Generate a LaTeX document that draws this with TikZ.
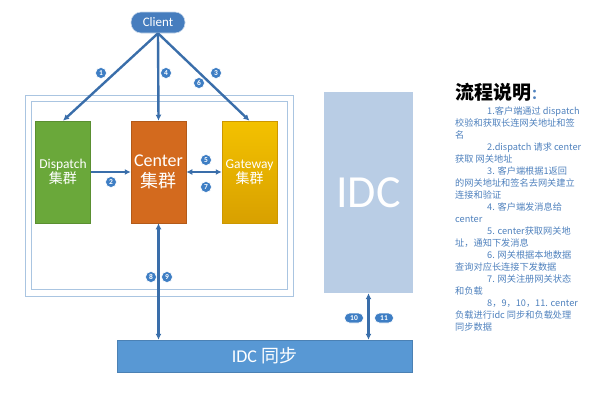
\documentclass[tikz,border=0pt]{standalone}
\usepackage{fontspec}
\setmainfont{Carlito}
\newfontfamily\cjk{Noto Sans CJK SC}
\usetikzlibrary{arrows.meta}
\definecolor{arrowblue}{RGB}{58,110,170}
\definecolor{clientblue}{RGB}{70,125,190}
\definecolor{framecol}{RGB}{170,197,225}
\definecolor{dispgreen}{RGB}{106,168,58}
\definecolor{centorange}{RGB}{211,106,30}
\definecolor{gategold}{RGB}{240,178,0}
\definecolor{idcbar}{RGB}{88,152,212}
\definecolor{idcbox}{RGB}{185,205,229}
\definecolor{badge}{RGB}{62,126,196}
\definecolor{textblue}{RGB}{79,129,189}
\tikzset{
  frame/.style={draw=framecol, line width=1pt, inner sep=0pt},
  cluster/.style={minimum width=55pt, minimum height=102pt, inner sep=0pt, text=white, align=center},
  arr/.style={draw=arrowblue, line width=2.4pt, -{Latex[length=6pt,width=6pt]}},
  darr/.style={draw=arrowblue, line width=2.4pt, {Latex[length=6pt,width=6pt]}-{Latex[length=6pt,width=6pt]}},
  badgec/.style={circle, fill=badge, draw=white, line width=0.6pt, inner sep=0pt, minimum size=11pt, text=white, font=\fontsize{7.5}{7.5}\selectfont\bfseries},
  badgee/.style={rectangle, rounded corners=5pt, fill=badge, draw=white, line width=0.6pt, inner sep=0pt, minimum width=19pt, minimum height=10pt, text=white, font=\fontsize{7.5}{7.5}\selectfont\bfseries}
}
\begin{document}
\begin{tikzpicture}[x=1pt,y=-1pt]
\useasboundingbox (0,0) rectangle (595,400);
% frames
\node[frame, minimum width=268pt, minimum height=201pt] (outer) at (159,195.5) {};
\node[frame, minimum width=256pt, minimum height=188pt] (inner) at (159,195) {};
% IDC box and bar
\node[fill=idcbox, minimum width=89pt, minimum height=201pt, inner sep=0pt, text=white, font=\fontsize{46}{46}\selectfont] (idc) at (368.5,192.5) {IDC};
\node[fill=idcbar, draw=idcbar!85!black, line width=0.4pt, minimum width=295pt, minimum height=32pt, inner sep=0pt, text=white] (sync) at (264.5,356) {\fontsize{18}{18}\selectfont IDC {\cjk 同步}};
% client
\node[fill=clientblue, draw=white!70!clientblue, line width=0.6pt, rounded corners=10pt, minimum width=54pt, minimum height=21pt, inner sep=0pt, text=white, font=\fontsize{13}{13}\selectfont] (client) at (158,22.5) {Client};
% clusters
\node[cluster, fill=dispgreen, draw=dispgreen!85!black, line width=0.5pt] (dispatch) at (63,172)
  {\fontsize{13.5}{18}\selectfont Dispatch\\{\cjk\fontsize{14}{14}\selectfont 集群}};
\node[cluster, fill=centorange, draw=centorange!85!black, line width=0.5pt] (center) at (158.5,172)
  {\fontsize{18}{22}\selectfont Center\\[4pt]{\cjk\fontsize{18}{18}\selectfont 集群}};
\node[cluster, top color=gategold!80!yellow, bottom color=gategold!90!black, draw=gategold!85!black, line width=0.5pt] (gateway) at (249.5,172)
  {\fontsize{13.5}{18}\selectfont Gateway\\{\cjk\fontsize{14}{14}\selectfont 集群}};
% connectors
\draw[arr] (client.south) -- (dispatch.north);
\draw[arr] (client.south) -- (center.north);
\draw[arr] (client.south) -- (gateway.north);
\draw[arr] (dispatch.east) -- (center.west);
\draw[darr] (center.east) -- (gateway.west);
\draw[darr] (center.south) -- (center.south |- sync.north);
\draw[darr] (idc.south) -- (idc.south |- sync.north);
% badges
\node[badgec] (b1) at (101,73) {1};
\node[badgec] (b4) at (166,73) {4};
\node[badgec] (b3) at (216,73) {3};
\node[badgec] (b6) at (199,83) {6};
\node[badgec] (b2) at (111,182) {2};
\node[badgec] (b5) at (206,160) {5};
\node[badgec] (b7) at (206,187) {7};
\node[badgec] (b8) at (151,277) {8};
\node[badgec] (b9) at (167,277) {9};
\node[badgee] (b10) at (354,318) {10};
\node[badgee] (b11) at (384,318) {11};
% description
\node[anchor=west, inner sep=0pt] (title) at (455,92)
  {{\cjk\fontsize{19}{19}\selectfont\bfseries 流程说明}{\cjk\color{textblue}\fontsize{14}{14}\selectfont\bfseries ：}};
\node[anchor=north west, inner sep=0pt, align=left, text=textblue, font=\cjk\fontsize{9.2}{12.05}\selectfont] (desc) at (455,106) {%
\hspace*{32pt}1.客户端通过 dispatch\\
校验和获取长连网关地址和签\\
名\\
\hspace*{32pt}2.dispatch 请求 center\\
获取 网关地址\\
\hspace*{32pt}3. 客户端根据1返回\\
的网关地址和签名去网关建立\\
连接和验证\\
\hspace*{32pt}4. 客户端发消息给\\
center\\
\hspace*{32pt}5. center获取网关地\\
址，通知下发消息\\
\hspace*{32pt}6. 网关根据本地数据\\
查询对应长连接下发数据\\
\hspace*{32pt}7. 网关注册网关状态\\
和负载\\
\hspace*{32pt}8，9，10，11. center\\
负载进行idc 同步和负载处理\\
同步数据};
\end{tikzpicture}
\end{document}
